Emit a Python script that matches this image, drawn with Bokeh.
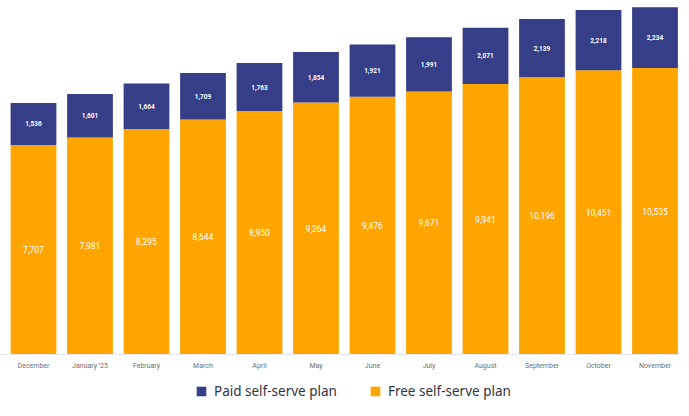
from bokeh.plotting import figure
from bokeh.models import ColumnDataSource, Range1d, FixedTicker, Legend, LegendItem
from bokeh.core.properties import value
from bokeh.embed import file_html
from bokeh.resources import INLINE

months = ["December", "January '25", "February", "March", "April", "May",
          "June", "July", "August", "September", "October", "November"]
paid = [1536, 1601, 1664, 1709, 1763, 1854, 1921, 1991, 2071, 2139, 2218, 2234]
free = [7707, 7981, 8295, 8644, 8950, 9264, 9476, 9671, 9941, 10196, 10451, 10535]

PAID_COLOR = "#353e86"
FREE_COLOR = "#fea500"

x = list(range(len(months)))
src = ColumnDataSource(dict(
    x=x, free=free, paid=paid,
    free_mid=[f / 2 for f in free],
    paid_mid=[f + p / 2 for f, p in zip(free, paid)],
    free_lbl=[f"{v:,}" for v in free],
    paid_lbl=[f"{v:,}" for v in paid],
))

p = figure(width=681, height=400, output_backend="svg", toolbar_location=None,
           x_range=Range1d(-0.584, 11.469), y_range=Range1d(-1691, 13015),
           y_axis_location=None, min_border_left=0, min_border_right=0,
           min_border_top=0, min_border_bottom=0)
p.outline_line_color = None
p.xgrid.grid_line_color = None
p.ygrid.grid_line_color = None
p.background_fill_color = "white"

r = p.vbar_stack(["free", "paid"], x="x", width=0.81, source=src,
                 color=[FREE_COLOR, PAID_COLOR], line_color=None)

p.text(x="x", y="free_mid", text="free_lbl", source=src, text_color="white",
       text_font=value("Roboto"), text_font_size="8.5px", text_align="center",
       text_baseline="middle")
p.text(x="x", y="paid_mid", text="paid_lbl", source=src, text_color="white",
       text_font=value("Roboto"), text_font_size="6.5px", text_font_style="bold",
       text_align="center", text_baseline="middle")

ax = p.xaxis[0]
ax.fixed_location = 0
ax.ticker = FixedTicker(ticks=x)
ax.major_label_overrides = {i: m for i, m in zip(x, months)}
ax.axis_line_color = "#e3e7f0"
ax.major_tick_line_color = None
ax.minor_tick_line_color = None
ax.major_label_text_font = "Roboto"
ax.major_label_text_font_size = "7px"
ax.major_label_text_color = "#6f6f6f"
ax.major_label_standoff = 1

legend = Legend(items=[LegendItem(label="Paid self-serve plan", renderers=[r[1]]),
                       LegendItem(label="Free self-serve plan", renderers=[r[0]])],
                orientation="horizontal", location=(195, 0),
                glyph_width=12, glyph_height=12, label_standoff=7, spacing=32,
                padding=0, margin=0, border_line_color=None,
                background_fill_alpha=0, label_text_font="Noto Sans",
                label_text_font_size="13.5px", label_text_color="#333344",
                label_height=12)
p.add_layout(legend, "center")

open("out.html", "w").write(file_html(p, INLINE))
